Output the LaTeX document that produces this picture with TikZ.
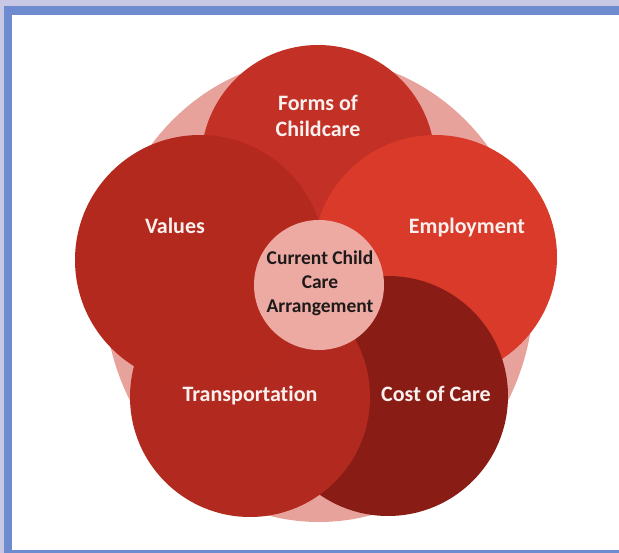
\documentclass[tikz,border=0pt]{standalone}
\usepackage{fontspec}
\setmainfont{Carlito}[Ligatures=NoCommon]
\usetikzlibrary{shapes.geometric}

\definecolor{frameLav}{RGB}{200,200,228}
\definecolor{frameBlue}{RGB}{110,139,207}
\definecolor{haloPink}{RGB}{232,162,156}
\definecolor{formsRed}{RGB}{194,48,38}
\definecolor{emplRed}{RGB}{217,58,42}
\definecolor{costRed}{RGB}{137,29,22}
\definecolor{transRed}{RGB}{178,42,31}
\definecolor{valRed}{RGB}{180,41,30}
\definecolor{hubPink}{RGB}{237,170,163}
\definecolor{lblWhite}{RGB}{250,240,238}
\definecolor{hubText}{RGB}{30,26,26}

\tikzset{
  petal/.style={circle, inner sep=0pt, minimum size=#1},
  petallabel/.style={text=lblWhite, font=\fontsize{22}{26}\selectfont\bfseries, align=center, inner sep=0pt},
  hublabel/.style={text=hubText, font=\fontsize{19.5}{24}\selectfont\bfseries, align=center, inner sep=0pt}
}

\begin{document}
\begin{tikzpicture}[x=1pt,y=-1pt]
  \useasboundingbox (0,0) rectangle (619,553);

  % frame
  \fill[frameLav] (0,0) rectangle (619,553);
  \fill[frameBlue] (4,6) rectangle (619,553);
  \fill[white] (12,15) rectangle (619,550);

  % soft halo behind the petals
  \node[ellipse, fill=haloPink, inner sep=0pt, minimum width=430pt, minimum height=464pt] (halo) at (319,290) {};

  % petals, each overlapping the next one clockwise
  \node[petal=234pt, fill=formsRed] (forms) at (318,162) {};
  \node[petal=244pt, fill=emplRed]  (empl)  at (435,257) {};
  \node[petal=240pt, fill=costRed]  (cost)  at (388,396) {};
  \node[petal=240pt, fill=transRed] (trans) at (250,397) {};
  \node[petal=250pt, fill=valRed]   (vals)  at (200,260) {};

  % hub
  \node[petal=130pt, fill=hubPink] (hub) at (319,285) {};

  % labels
  \node[petallabel] (formsLbl) at (318,115.5) {Forms of\\Childcare};
  \node[petallabel, anchor=base] (emplLbl) at (467,234) {Employment};
  \node[petallabel, anchor=base] (costLbl) at (436,402) {Cost of Care};
  \node[petallabel, anchor=base] (transLbl) at (250,402) {Transportation};
  \node[petallabel, anchor=base] (valsLbl) at (175,234) {Values};
  \node[hublabel] (hubLbl) at (320,283) {Current Child\\Care\\Arrangement};
\end{tikzpicture}
\end{document}
